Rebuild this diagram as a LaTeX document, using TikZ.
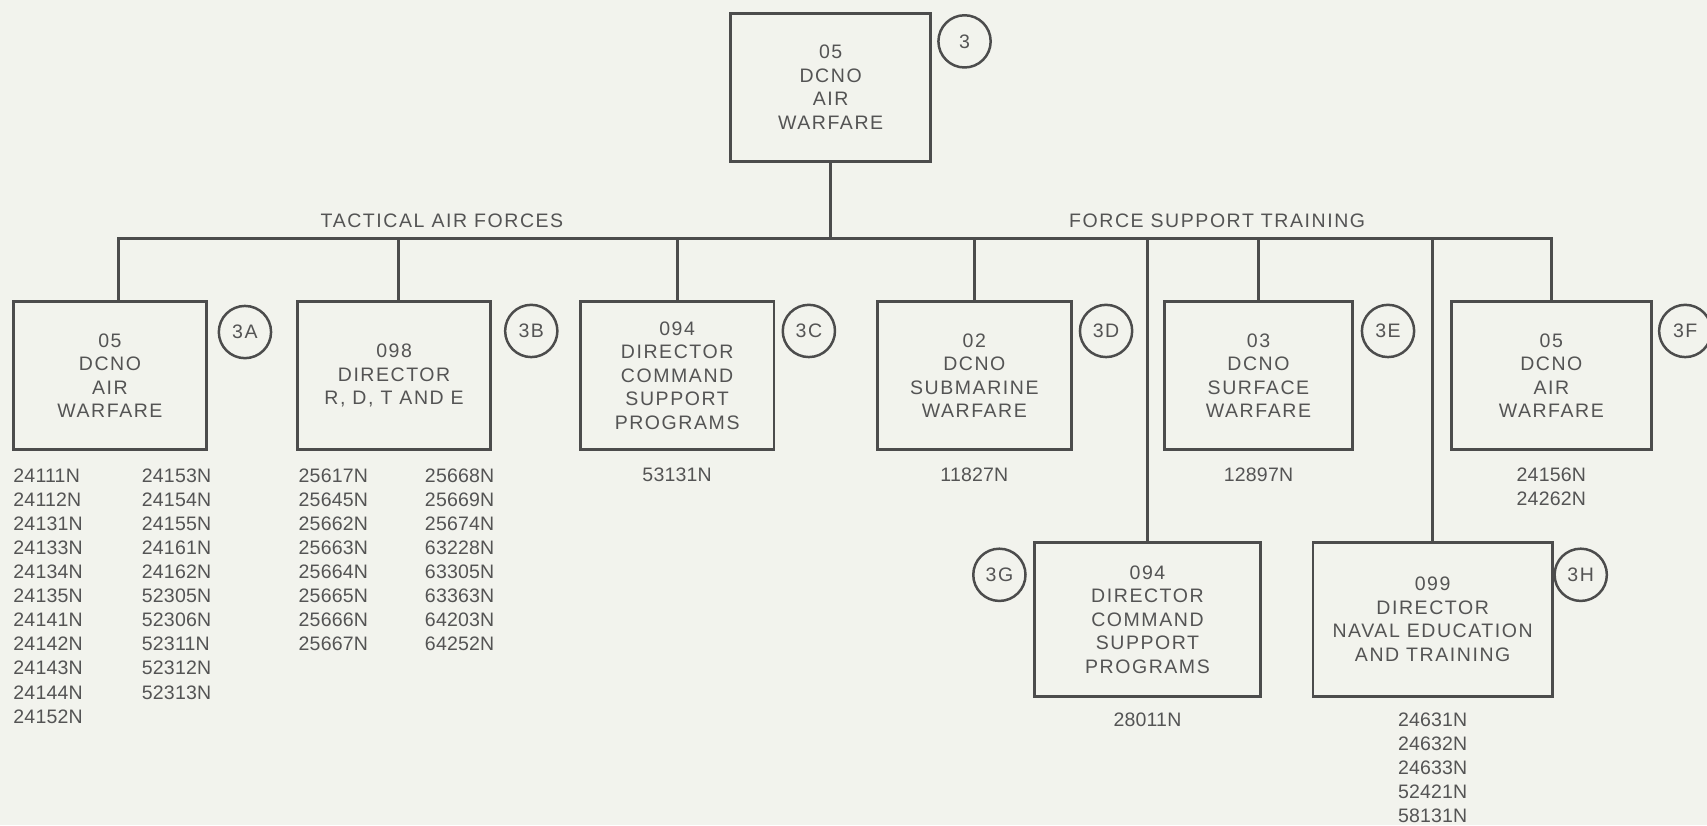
\documentclass[tikz,border=0pt]{standalone}
\usepackage{fontspec}
\usepackage{tikz}
\newfontfamily\chartfont{Liberation Sans}[LetterSpace=8]
\newfontfamily\codefont{Liberation Sans}[LetterSpace=1]
\usetikzlibrary{positioning}
\definecolor{paper}{RGB}{242,243,237}
\definecolor{ink}{RGB}{76,76,76}
\definecolor{type}{RGB}{84,84,84}
\tikzset{
  every picture/.style={font=\chartfont\fontsize{10.2}{12.3}\selectfont},
  box/.style={draw=ink,line width=1.5pt,minimum height=2.72cm,align=center,text=type,inner sep=0pt},
  tag/.style={draw=ink,line width=1.3pt,circle,minimum size=0.96cm,inner sep=0pt,text=type},
  codes/.style={font=\codefont\fontsize{10.2}{12.6}\selectfont,text=type,inner sep=0pt},
  wire/.style={draw=ink,line width=1.5pt},
  head/.style={text=type,inner sep=0pt},
}

\begin{document}
\begin{tikzpicture}[x=0.02cm,y=-0.02cm]
  \path[use as bounding box,fill=paper] (0,0) rectangle (1568,758);
  \node[box,minimum width=3.68cm] (top) at (763,80) {05\\DCNO\\AIR\\WARFARE};
  \node[tag] (t3) at (886,38) {3};
  \coordinate (bus) at (0,219);
  \node[head] (taf) at (406,203) {TACTICAL AIR FORCES};
  \node[head] (fst) at (1118,203) {FORCE SUPPORT TRAINING};

  \node[box,minimum width=3.56cm] (airA) at (101,345) {05\\DCNO\\AIR\\WARFARE};
  \node[box,minimum width=3.54cm] (rdte) at (362,345) {098\\DIRECTOR\\R, D, T AND E};
  \node[box,minimum width=3.56cm] (cmdC) at (622,345) {094\\DIRECTOR\\COMMAND\\SUPPORT\\PROGRAMS};
  \node[box,minimum width=3.56cm] (sub) at (895,345) {02\\DCNO\\SUBMARINE\\WARFARE};
  \node[box,minimum width=3.46cm] (surf) at (1156,345) {03\\DCNO\\SURFACE\\WARFARE};
  \node[box,minimum width=3.68cm] (airF) at (1425,345) {05\\DCNO\\AIR\\WARFARE};
  \node[box,minimum width=4.14cm,minimum height=2.84cm] (cmdG) at (1054,569) {094\\DIRECTOR\\COMMAND\\SUPPORT\\PROGRAMS};
  \node[box,minimum width=4.40cm,minimum height=2.84cm] (naval) at (1316,569) {099\\DIRECTOR\\NAVAL EDUCATION\\AND TRAINING};

  \node[tag] (t3A) at (225,305) {3A};
  \node[tag] (t3B) at (488,304) {3B};
  \node[tag] (t3C) at (743,304) {3C};
  \node[tag] (t3D) at (1016,304) {3D};
  \node[tag] (t3E) at (1275,304) {3E};
  \node[tag] (t3F) at (1548,304) {3F};
  \node[tag] (t3G) at (918,528) {3G};
  \node[tag] (t3H) at (1452,528) {3H};

  \draw[wire] (top.south) -- (top.south |- bus);
  \draw[wire] ([xshift=0.16cm]airA.north) -- ([xshift=0.16cm]airA.north |- bus) -- (airF.north |- bus) -- (airF.north);
  \draw[wire] ([xshift=0.08cm]rdte.north) -- ([xshift=0.08cm]rdte.north |- bus);
  \foreach \b in {cmdC,sub,cmdG,surf,naval}
    \draw[wire] (\b.north) -- (\b.north |- bus);

  \node[codes,anchor=north west,align=left] (listA1) at (12,430)
    {24111N\\24112N\\24131N\\24133N\\24134N\\24135N\\24141N\\24142N\\24143N\\24144N\\24152N};
  \node[codes,anchor=north west,align=left] (listA2) at (130,430)
    {24153N\\24154N\\24155N\\24161N\\24162N\\52305N\\52306N\\52311N\\52312N\\52313N};
  \node[codes,anchor=north west,align=left] (listB1) at (274,430)
    {25617N\\25645N\\25662N\\25663N\\25664N\\25665N\\25666N\\25667N};
  \node[codes,anchor=north west,align=left] (listB2) at (390,430)
    {25668N\\25669N\\25674N\\63228N\\63305N\\63363N\\64203N\\64252N};
  \node[codes,below=0.3cm of cmdC] (listC) {53131N};
  \node[codes,below=0.3cm of sub] (listD) {11827N};
  \node[codes,below=0.3cm of surf] (listE) {12897N};
  \node[codes,below=0.3cm of airF,align=center] (listF) {24156N\\24262N};
  \node[codes,below=0.26cm of cmdG] (listG) {28011N};
  \node[codes,below=0.26cm of naval,align=center] (listH) {24631N\\24632N\\24633N\\52421N\\58131N};
\end{tikzpicture}
\end{document}
